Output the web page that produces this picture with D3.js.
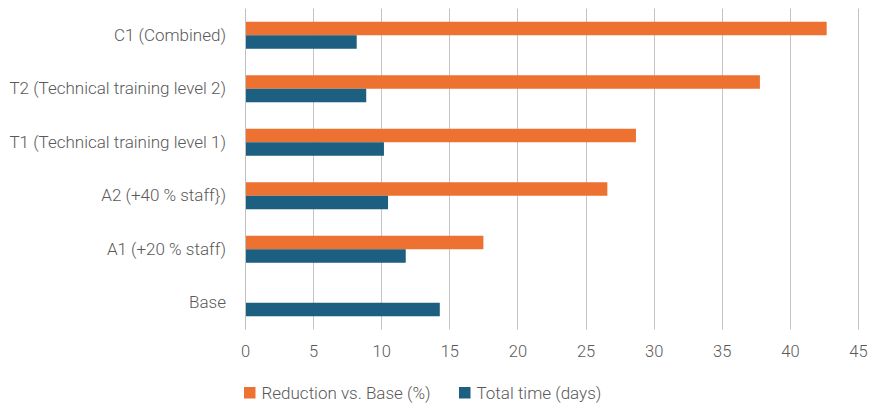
<!DOCTYPE html>
<html>
<head>
<meta charset="utf-8">
<script src="https://cdn.jsdelivr.net/npm/d3@7"></script>
<style>
  html, body { margin: 0; padding: 0; background: #fff; }
  svg { display: block; }
  text { font-family: Roboto, "Noto Sans", sans-serif; font-weight: 300; fill: #595959; }
</style>
</head>
<body>
<svg id="chart" width="871" height="404"></svg>
<script>
// Scenario categories, top to bottom
const categories = [
  "C1 (Combined)",
  "T2 (Technical training level 2)",
  "T1 (Technical training level 1)",
  "A2 (+40 % staff})",
  "A1 (+20 % staff)",
  "Base"
];
// Reduction vs. Base (%) — Base has no reduction bar
const reductionPct = [42.7, 37.8, 28.7, 26.6, 17.5, null];
// Total time (days)
const totalDays = [8.2, 8.9, 10.2, 10.5, 11.8, 14.3];
const xTicks = [0, 5, 10, 15, 20, 25, 30, 35, 40, 45];
const seriesNames = ["Reduction vs. Base (%)", "Total time (days)"];
const seriesColors = ["#ED7232", "#1D5F80"];

const svg = d3.select("#chart");
const margin = { left: 245, right: 13, top: 8.5, bottom: 74.5 };
const W = 871, H = 404;

const x = d3.scaleLinear().domain([0, 45]).range([margin.left, W - margin.right]);
const y = d3.scaleBand().domain(categories).range([margin.top, H - margin.bottom]).paddingInner(0.495).paddingOuter(0.2475);
const sub = d3.scaleBand().domain([0, 1]).range([0, y.bandwidth()]);

// vertical gridlines
svg.append("g")
  .selectAll("line")
  .data(xTicks.slice(1))
  .join("line")
  .attr("x1", d => Math.round(x(d)) + 0.5)
  .attr("x2", d => Math.round(x(d)) + 0.5)
  .attr("y1", margin.top)
  .attr("y2", H - margin.bottom)
  .attr("stroke", "#C4C4C4")
  .attr("stroke-width", 1);

// bars
const rows = categories.map((c, i) => ({ c, vals: [reductionPct[i], totalDays[i]] }));
const groups = svg.append("g").selectAll("g").data(rows).join("g")
  .attr("transform", d => `translate(0,${y(d.c)})`);
groups.selectAll("rect")
  .data(d => d.vals.map((v, k) => ({ v, k })).filter(e => e.v != null))
  .join("rect")
  .attr("x", x(0))
  .attr("y", e => sub(e.k))
  .attr("width", e => x(e.v) - x(0))
  .attr("height", sub.bandwidth())
  .attr("fill", e => seriesColors[e.k]);

// category axis line
svg.append("line")
  .attr("x1", Math.round(x(0)) + 0.5).attr("x2", Math.round(x(0)) + 0.5)
  .attr("y1", margin.top).attr("y2", H - margin.bottom)
  .attr("stroke", "#BFBFBF").attr("stroke-width", 1);

// category labels
const yAxis = d3.axisLeft(y).tickSize(0).tickPadding(19);
const yg = svg.append("g").attr("transform", `translate(${x(0)},0)`).call(yAxis);
yg.select(".domain").remove();
yg.selectAll("text").attr("font-size", 17).attr("fill", "#595959")
  .style("font-family", "Roboto, 'Noto Sans', sans-serif").style("font-weight", 300);

// value axis labels
const xAxis = d3.axisBottom(x).tickValues(xTicks).tickSize(0).tickPadding(16);
const xg = svg.append("g").attr("transform", `translate(0,${H - margin.bottom})`).call(xAxis);
xg.select(".domain").remove();
xg.selectAll("text").attr("font-size", 16.5).attr("fill", "#595959")
  .style("font-family", "Roboto, 'Noto Sans', sans-serif").style("font-weight", 300);

// legend
const legendItems = [
  { name: seriesNames[0], color: seriesColors[0], x: 244 },
  { name: seriesNames[1], color: seriesColors[1], x: 459 }
];
const lg = svg.append("g").selectAll("g").data(legendItems).join("g")
  .attr("transform", d => `translate(${d.x},387)`);
lg.append("rect").attr("width", 11.5).attr("height", 11.5).attr("fill", d => d.color);
lg.append("text").attr("x", 17.5).attr("y", 6).attr("dy", "0.36em")
  .attr("font-size", 17).text(d => d.name);
</script>
</body>
</html>
